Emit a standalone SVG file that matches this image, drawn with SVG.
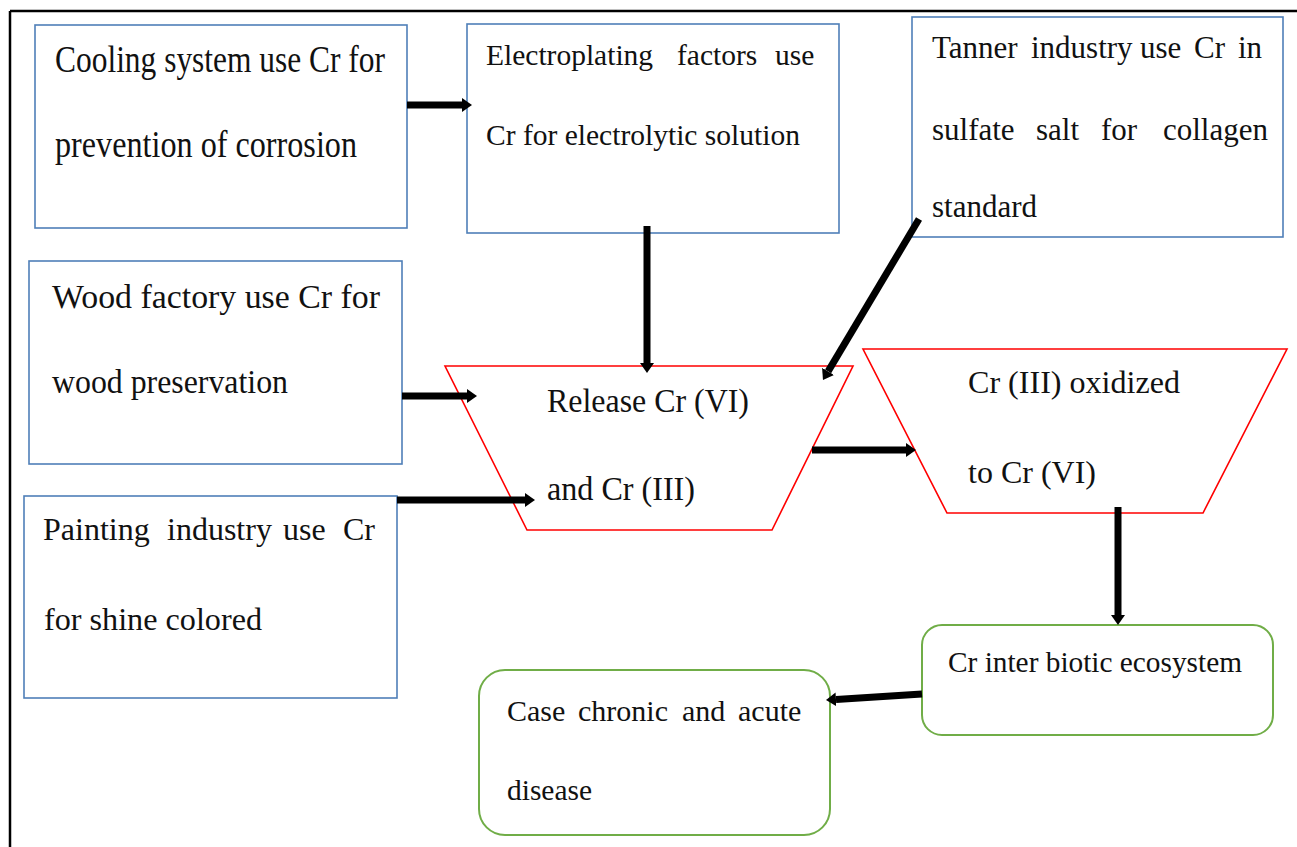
<svg xmlns="http://www.w3.org/2000/svg" width="1297" height="847" viewBox="0 0 1297 847">
<style>
.box{fill:#fff;stroke:#4f7fb8;stroke-width:1.6}
.trap{fill:#fff;stroke:#ff0000;stroke-width:1.6}
.gbox{fill:#fff;stroke:#70ad47;stroke-width:2}
.t{font-family:"Liberation Serif","Times New Roman",serif;fill:#111}
.arr{stroke:#000;stroke-width:7;fill:none;marker-end:url(#ah)}
.frame{stroke:#000;stroke-width:2.5}
</style>
<defs>
<marker id="ah" viewBox="0 -7 10 14" refX="0" refY="0" markerWidth="10" markerHeight="14" markerUnits="userSpaceOnUse" orient="auto">
<path d="M0,-7 L10,0 L0,7 z" fill="#000"/>
</marker>
</defs>
<rect width="1297" height="847" fill="#fff"/>
<line class="frame" x1="10" y1="11" x2="10" y2="847"/>
<line class="frame" x1="10" y1="11" x2="1297" y2="11"/>

<g id="cooling">
<rect class="box" x="35" y="25" width="372" height="203"/>
<text class="t" x="55" y="72" font-size="37" textLength="330" lengthAdjust="spacingAndGlyphs">Cooling system use Cr for</text>
<text class="t" x="55" y="157" font-size="37" textLength="302" lengthAdjust="spacingAndGlyphs">prevention of corrosion</text>
</g>

<g id="electroplating">
<rect class="box" x="467" y="24" width="372" height="209"/>
<text class="t" y="65" font-size="29.5"><tspan x="486">Electroplating</tspan><tspan x="677">factors</tspan><tspan x="775">use</tspan></text>
<text class="t" x="486" y="145" font-size="29.5" textLength="314" lengthAdjust="spacingAndGlyphs">Cr for electrolytic solution</text>
</g>

<g id="tanner">
<rect class="box" x="912" y="17" width="371" height="220"/>
<text class="t" y="58" font-size="31"><tspan x="932">Tanner</tspan><tspan x="1031">industry</tspan><tspan x="1140">use</tspan><tspan x="1194">Cr</tspan><tspan x="1238">in</tspan></text>
<text class="t" y="140" font-size="31"><tspan x="932">sulfate</tspan><tspan x="1036">salt</tspan><tspan x="1101">for</tspan><tspan x="1163">collagen</tspan></text>
<text class="t" x="932" y="217" font-size="31">standard</text>
</g>

<g id="wood">
<rect class="box" x="29" y="261" width="373" height="203"/>
<text class="t" x="52" y="308" font-size="34" textLength="328" lengthAdjust="spacingAndGlyphs">Wood factory use Cr for</text>
<text class="t" x="52" y="393" font-size="34" textLength="236" lengthAdjust="spacingAndGlyphs">wood preservation</text>
</g>

<g id="painting">
<rect class="box" x="24" y="496" width="373" height="202"/>
<text class="t" y="540" font-size="32"><tspan x="43">Painting</tspan><tspan x="167">industry</tspan><tspan x="283">use</tspan><tspan x="343">Cr</tspan></text>
<text class="t" x="44" y="630" font-size="32" textLength="218" lengthAdjust="spacingAndGlyphs">for shine colored</text>
</g>

<g id="release">
<polygon class="trap" points="445,366 853,366 772,530 527,530"/>
<text class="t" x="547" y="412" font-size="34" textLength="202" lengthAdjust="spacingAndGlyphs">Release Cr (VI)</text>
<text class="t" x="547" y="500" font-size="34" textLength="148" lengthAdjust="spacingAndGlyphs">and Cr (III)</text>
</g>

<g id="oxidized">
<polygon class="trap" points="863,349 1287,349 1203,513 947,513"/>
<text class="t" x="968" y="393" font-size="32" textLength="212" lengthAdjust="spacingAndGlyphs">Cr (III) oxidized</text>
<text class="t" x="968" y="483" font-size="32" textLength="128" lengthAdjust="spacingAndGlyphs">to Cr (VI)</text>
</g>

<g id="ecosystem">
<rect class="gbox" x="922" y="625" width="351" height="110" rx="20" ry="20"/>
<text class="t" x="948" y="672" font-size="30" textLength="294" lengthAdjust="spacingAndGlyphs">Cr inter biotic ecosystem</text>
</g>

<g id="disease">
<rect class="gbox" x="479" y="670" width="351" height="165" rx="26" ry="26"/>
<text class="t" y="721" font-size="30"><tspan x="507">Case</tspan><tspan x="578">chronic</tspan><tspan x="682">and</tspan><tspan x="738">acute</tspan></text>
<text class="t" x="507" y="800" font-size="30" textLength="85" lengthAdjust="spacingAndGlyphs">disease</text>
</g>

<g id="connectors">
<line class="arr" x1="407" y1="105" x2="462" y2="105"/>
<line class="arr" x1="647" y1="226" x2="647" y2="363"/>
<line class="arr" x1="919" y1="219" x2="828.1" y2="371.4"/>
<line class="arr" x1="402" y1="396" x2="467" y2="396"/>
<line class="arr" x1="397" y1="500" x2="525" y2="500"/>
<line class="arr" x1="812" y1="450" x2="906" y2="450"/>
<line class="arr" x1="1118" y1="507" x2="1118" y2="615"/>
<line class="arr" x1="922" y1="694" x2="836" y2="699.4"/>
</g>
</svg>
